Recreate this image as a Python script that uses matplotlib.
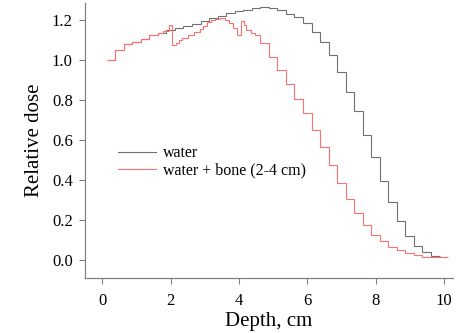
import numpy as np
import matplotlib
matplotlib.use('Agg')
import matplotlib.pyplot as plt

# water: 0.25 cm bins, centres 0.25 ... 9.75
water_centres = np.arange(0.25, 9.76, 0.25)
water_dose = [1.0, 1.048, 1.078, 1.092, 1.107, 1.123, 1.137, 1.148,
              1.16, 1.17, 1.18, 1.195, 1.208, 1.222, 1.235, 1.245,
              1.25, 1.26, 1.265, 1.258, 1.25, 1.228, 1.217, 1.187,
              1.142, 1.09, 1.023, 0.942, 0.84, 0.743, 0.623, 0.513,
              0.397, 0.288, 0.197, 0.122, 0.07, 0.038, 0.022]

# water + bone: finer bins around the bone interfaces
bone_edges = [0.125, 0.375, 0.625, 0.875, 1.125, 1.375, 1.625, 1.78, 1.95,
              2.05, 2.15, 2.24, 2.34, 2.52, 2.68, 2.86, 2.95, 3.05, 3.17,
              3.30, 3.44, 3.59, 3.71, 3.83, 3.93, 4.05, 4.14, 4.22, 4.34,
              4.47, 4.61, 4.875, 5.125, 5.375, 5.625, 5.875, 6.125, 6.375,
              6.625, 6.875, 7.125, 7.375, 7.625, 7.875, 8.125, 8.375, 8.625,
              8.875, 9.125, 9.375, 9.625, 9.875, 10.125]
bone_dose = [1.0, 1.048, 1.078, 1.092, 1.107, 1.123, 1.133, 1.147, 1.175,
             1.075, 1.087, 1.098, 1.112, 1.125, 1.138, 1.153, 1.172, 1.188,
             1.198, 1.204, 1.208, 1.2, 1.183, 1.158, 1.125, 1.197, 1.175,
             1.15, 1.133, 1.125, 1.083,
             1.017, 0.95, 0.878, 0.807, 0.733, 0.65, 0.563, 0.475, 0.383,
             0.303, 0.237, 0.173, 0.127, 0.093, 0.067, 0.048, 0.033, 0.023,
             0.017, 0.013, 0.013]

x_ticks = [0, 2, 4, 6, 8, 10]
y_ticks = [0.0, 0.2, 0.4, 0.6, 0.8, 1.0, 1.2]

plt.rcParams['font.family'] = ['Liberation Serif', 'DejaVu Serif']

fig = plt.figure(figsize=(4.61, 3.33), dpi=100)
ax = fig.add_axes([0.185, 0.165, 0.797, 0.826])

water_edges = np.append(water_centres - 0.125, water_centres[-1] + 0.125)
ax.stairs(water_dose, water_edges, baseline=None, color='#707070', lw=0.8,
          label='water')
ax.stairs(bone_dose, bone_edges, baseline=None, color='#ff7070', lw=0.8,
          label='water + bone (2-4 cm)')

ax.set_xlim(-0.5, 10.26)
ax.set_ylim(-0.09, 1.285)
ax.set_xticks(x_ticks)
ax.set_yticks(y_ticks)
ax.set_yticklabels(['%.1f' % v for v in y_ticks])

for s in ['top', 'right']:
    ax.spines[s].set_visible(False)
for s in ['left', 'bottom']:
    ax.spines[s].set_color('#808080')
    ax.spines[s].set_linewidth(0.9)
ax.tick_params(axis='both', direction='out', length=4, width=0.8,
               color='#808080', labelsize=12)
ax.tick_params(axis='x', pad=7)
ax.tick_params(axis='y', pad=5)

ax.set_xlabel('Depth, cm', fontsize=15, labelpad=2)
ax.set_ylabel('Relative dose', fontsize=15, labelpad=6)

ax.legend(loc='upper left', bbox_to_anchor=(0.05, 0.535), frameon=False,
          fontsize=11.5, handlelength=2.4, handletextpad=0.4,
          labelspacing=0.1)

fig.savefig('out.png', dpi=100)
